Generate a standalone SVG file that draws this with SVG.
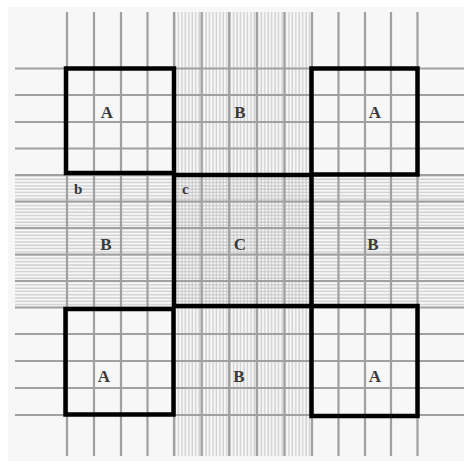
<svg xmlns="http://www.w3.org/2000/svg" width="464" height="468" viewBox="0 0 464 468">
<defs>
<pattern id="vfine" patternUnits="userSpaceOnUse" x="174" y="0" width="3.45" height="468">
<line x1="1" y1="0" x2="1" y2="468" stroke="#c2c2c2" stroke-width="1"/>
</pattern>
<pattern id="hfine" patternUnits="userSpaceOnUse" x="0" y="175" width="464" height="3.3">
<line x1="0" y1="1" x2="464" y2="1" stroke="#c2c2c2" stroke-width="1"/>
</pattern>
</defs>
<style>
.maj{stroke:#a0a0a0;stroke-width:2.2;fill:none}
.box{stroke:#000;stroke-width:4.5;fill:none}
.lbl{font-family:"Liberation Serif","Times New Roman",serif;font-weight:bold;font-size:17px;fill:#3a3a3a;text-anchor:middle}
.sm{font-family:"Liberation Serif","Times New Roman",serif;font-weight:bold;font-size:15px;fill:#3a3a3a}
</style>
<rect width="464" height="468" fill="#ffffff"/>
<rect x="8" y="7" width="456" height="454" fill="#f7f7f7"/>
<g id="fine">
<rect x="174" y="12" width="138" height="444" fill="url(#vfine)"/>
<rect x="15" y="175" width="449" height="132" fill="url(#hfine)"/>
</g>
<g id="grid" class="maj">
<path d="M67 12V456M94 12V456M121 12V456M147.5 12V456M174 12V456M201.6 12V456M229.2 12V456M256.8 12V456M284.4 12V456M312 12V456M338.5 12V456M365 12V456M391 12V456M417.5 12V456"/>
<path d="M15 68.5H464M15 95H464M15 122H464M15 148.5H464M15 175H464M15 201.5H464M15 228H464M15 254.5H464M15 281H464M15 307.5H464M15 334H464M15 361H464M15 388H464M15 415H464"/>
</g>
<g id="A-top-left"><rect class="box" x="66" y="68.5" width="108" height="104.5"/><text class="lbl" x="107" y="118">A</text></g>
<g id="A-top-right"><rect class="box" x="311.5" y="68.5" width="106" height="106"/><text class="lbl" x="375" y="118">A</text></g>
<g id="A-bottom-left"><rect class="box" x="65.5" y="309" width="108" height="105.5"/><text class="lbl" x="104" y="382">A</text></g>
<g id="A-bottom-right"><rect class="box" x="311.5" y="306" width="106" height="110"/><text class="lbl" x="375" y="382">A</text></g>
<g id="C"><rect class="box" x="174" y="175" width="137.5" height="131"/><text class="lbl" x="240" y="250">C</text><text class="sm" x="182" y="194">c</text></g>
<g id="B-top"><text class="lbl" x="240" y="118">B</text></g>
<g id="B-left"><text class="lbl" x="106" y="250">B</text><text class="sm" x="74" y="194">b</text></g>
<g id="B-right"><text class="lbl" x="373" y="250">B</text></g>
<g id="B-bottom"><text class="lbl" x="239" y="382">B</text></g>
</svg>
